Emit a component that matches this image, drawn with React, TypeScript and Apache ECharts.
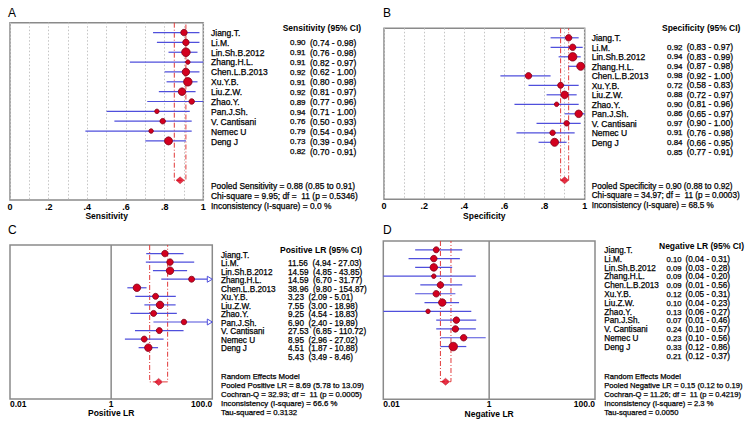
import React, { useEffect, useRef } from "react";
import * as echarts from "echarts";

const studies = ["Jiang.T.", "Li.M.", "Lin.Sh.B.2012", "Zhang.H.L.", "Chen.L.B.2013", "Xu.Y.B.", "Liu.Z.W.", "Zhao.Y.", "Pan.J.Sh.", "V. Cantisani", "Nemec U", "Deng J"];

const sensEst = [0.90, 0.91, 0.91, 0.92, 0.91, 0.92, 0.89, 0.94, 0.76, 0.79, 0.73, 0.82];
const sensLo = [0.74, 0.76, 0.82, 0.62, 0.80, 0.81, 0.77, 0.71, 0.50, 0.54, 0.39, 0.70];
const sensHi = [0.98, 0.98, 0.97, 1.00, 0.98, 0.97, 0.96, 1.00, 0.93, 0.94, 0.94, 0.91];
const sensWeight = [7, 7, 11, 3, 9, 11, 9, 5, 3, 5, 3, 10];
const sensPooled = [0.88, 0.85, 0.91];

const specEst = [0.92, 0.94, 0.94, 0.98, 0.72, 0.88, 0.90, 0.86, 0.97, 0.91, 0.84, 0.85];
const specLo = [0.83, 0.83, 0.87, 0.92, 0.58, 0.72, 0.81, 0.65, 0.90, 0.76, 0.66, 0.77];
const specHi = [0.97, 0.99, 0.98, 1.00, 0.83, 0.97, 0.96, 0.97, 1.00, 0.98, 0.95, 0.91];
const specWeight = [7, 7, 11, 10, 7, 6, 9, 3, 9, 5, 5, 10];
const specPooled = [0.90, 0.88, 0.92];

const plrEst = [11.56, 14.59, 14.59, 38.96, 3.23, 7.55, 9.25, 6.90, 27.53, 8.95, 4.51, 5.43];
const plrLo = [4.94, 4.85, 6.70, 9.80, 2.09, 3.00, 4.54, 2.40, 6.85, 2.96, 1.87, 3.49];
const plrHi = [27.03, 43.85, 31.77, 154.87, 5.01, 18.98, 18.83, 19.89, 110.72, 27.02, 10.88, 8.46];
const plrWeight = [7, 7, 9, 6, 9, 6, 9, 6, 5, 6, 6, 9];
const plrPooled = [8.69, 5.78, 13.09];

const nlrEst = [0.10, 0.09, 0.09, 0.09, 0.12, 0.10, 0.13, 0.07, 0.24, 0.23, 0.33, 0.21];
const nlrLo = [0.04, 0.03, 0.04, 0.01, 0.05, 0.04, 0.06, 0.01, 0.10, 0.10, 0.12, 0.12];
const nlrHi = [0.31, 0.28, 0.20, 0.56, 0.31, 0.23, 0.27, 0.46, 0.57, 0.56, 0.86, 0.37];
const nlrWeight = [6, 7, 9, 3, 7, 7, 9, 3, 7, 7, 7, 11];
const nlrPooled = [0.15, 0.12, 0.19];

const propTickLabels = ["0", ".2", ".4", ".6", ".8", "1"];
const lrTickValues = [0.01, 1, 100];
const lrTickLabels = ["0.01", "1", "100.0"];

const sensStats = ["Pooled Sensitivity = 0.88 (0.85 to 0.91)", "Chi-square = 9.95; df =  11 (p = 0.5346)", "Inconsistency (I-square) = 0.0 %"];
const specStats = ["Pooled Specificity = 0.90 (0.88 to 0.92)", "Chi-square = 34.97; df =  11 (p = 0.0003)", "Inconsistency (I-square) = 68.5 %"];
const plrStats = ["Random Effects Model", "Pooled Positive LR = 8.69 (5.78 to 13.09)", "Cochran-Q = 32.93; df =  11 (p = 0.0005)", "Inconsistency (I-square) = 66.6 %", "Tau-squared = 0.3132"];
const nlrStats = ["Random Effects Model", "Pooled Negative LR = 0.15 (0.12 to 0.19)", "Cochran-Q = 11.26; df =  11 (p = 0.4219)", "Inconsistency (I-square) = 2.3 %", "Tau-squared = 0.0050"];

const FONT = "'Liberation Sans Narrow', 'Arial Narrow', 'Liberation Sans', Arial, sans-serif";
const CI_COLOR = "#4f4fdc";
const DOT_COLOR = "#d3001f";
const DOT_BORDER = "#7d0018";
const POOL_COLOR = "#e23a3a";
const FRAME = "#8a8a8a";

type Panel = {
  letter: string;
  grid: { left: number; top: number; width: number; height: number };
  log: boolean;
  axisName: string;
  header: string;
  est: number[]; lo: number[]; hi: number[]; w: number[]; pooled: number[];
  stats: string[];
  letterPos: [number, number];
  nameX: number; nameY0: number; nameDy: number;
  valX: number; valY0: number; valDy: number; ciX: number | null;
  headerPos: [number, number];
  statX: number; statY: number[]; statSize: number; textSize: number;
  labelMargin: number; nameGap: number;
};

const panels: Panel[] = [
  {
    letter: "A", grid: { left: 10, top: 22.7, width: 193.3, height: 177.3 }, log: false,
    axisName: "Sensitivity", header: "Sensitivity (95% CI)",
    est: sensEst, lo: sensLo, hi: sensHi, w: sensWeight, pooled: sensPooled, stats: sensStats,
    letterPos: [8, 13], nameX: 211, nameY0: 32.7, nameDy: 9.9, valX: 290, valY0: 42.7, valDy: 9.9, ciX: 310,
    headerPos: [282.7, 28.3], statX: 211, statY: [186, 195.7, 205.7], statSize: 8.4, textSize: 8.5, labelMargin: 2, nameGap: 11.5,
  },
  {
    letter: "B", grid: { left: 384, top: 28.3, width: 200.7, height: 171 }, log: false,
    axisName: "Specificity", header: "Specificity (95% CI)",
    est: specEst, lo: specLo, hi: specHi, w: specWeight, pooled: specPooled, stats: specStats,
    letterPos: [383, 13], nameX: 591.7, nameY0: 38, nameDy: 9.5, valX: 667, valY0: 47, valDy: 9.55, ciX: 686.7,
    headerPos: [662, 28.3], statX: 591.7, statY: [186, 195.7, 205.7], statSize: 8.2, textSize: 8.5, labelMargin: 2, nameGap: 11.5,
  },
  {
    letter: "C", grid: { left: 10, top: 245, width: 202.3, height: 154 }, log: true,
    axisName: "Positive LR", header: "Positive LR (95% CI)",
    est: plrEst, lo: plrLo, hi: plrHi, w: plrWeight, pooled: plrPooled, stats: plrStats,
    letterPos: [8, 230], nameX: 221, nameY0: 255, nameDy: 8.5, valX: 288, valY0: 263.5, valDy: 8.5, ciX: null,
    headerPos: [280, 249.5], statX: 221, statY: [376, 385.7, 394.7, 403.7, 412.3], statSize: 7.8, textSize: 8.2, labelMargin: 0, nameGap: 9,
  },
  {
    letter: "D", grid: { left: 383.3, top: 241, width: 211.7, height: 158.3 }, log: true,
    axisName: "Negative LR", header: "Negative LR (95% CI)",
    est: nlrEst, lo: nlrLo, hi: nlrHi, w: nlrWeight, pooled: nlrPooled, stats: nlrStats,
    letterPos: [383, 230], nameX: 604.3, nameY0: 250.5, nameDy: 8.8, valX: 666.5, valY0: 259.3, valDy: 8.8, ciX: 685.5,
    headerPos: [659, 246], statX: 604.3, statY: [376, 385.7, 394.7, 403.7, 412.3], statSize: 7.6, textSize: 8.2, labelMargin: 0, nameGap: 9,
  },
];

const POOL_ROW = 15;

function buildOption() {
  const grid: any[] = [];
  const xAxis: any[] = [];
  const yAxis: any[] = [];
  const series: any[] = [];
  const graphic: any[] = [];

  panels.forEach((p, k) => {
    grid.push({ ...p.grid, show: true, borderColor: FRAME, borderWidth: 1.5, backgroundColor: "transparent" });
    const axisMax = p.log ? 100 : 1;
    if (p.log) {
      xAxis.push({
        gridIndex: k, type: "log", logBase: 10, min: 0.01, max: 100,
        axisLine: { show: false }, axisTick: { show: false }, splitLine: { show: false },
        axisLabel: {
          margin: p.labelMargin, fontSize: 8.5, fontWeight: "bold", color: "#000", fontFamily: FONT,
          alignMinLabel: "left", alignMaxLabel: "right", showMinLabel: true, showMaxLabel: true,
          formatter: (v: number) => {
            const i = lrTickValues.findIndex((t) => Math.abs(Math.log10(t) - Math.log10(v)) < 1e-6);
            return i >= 0 ? lrTickLabels[i] : "";
          },
        },
        name: p.axisName, nameLocation: "middle", nameGap: p.nameGap,
        nameTextStyle: { fontSize: 8.5, fontWeight: "bold", color: "#000", fontFamily: FONT },
      });
    } else {
      xAxis.push({
        gridIndex: k, type: "value", min: 0, max: 1, interval: 0.1,
        axisLine: { show: false }, axisTick: { show: false },
        splitLine: { show: true, lineStyle: { type: [1.5, 2], color: "#c4c4c4", width: 1 } },
        axisLabel: {
          margin: p.labelMargin, fontSize: 9, fontWeight: "bold", color: "#000", fontFamily: FONT,
          showMinLabel: true, showMaxLabel: true, hideOverlap: false,
          formatter: (v: number) => {
            const i = Math.round(v * 10);
            return i % 2 === 0 ? propTickLabels[i / 2] : "";
          },
        },
        name: p.axisName, nameLocation: "middle", nameGap: p.nameGap,
        nameTextStyle: { fontSize: 8.5, fontWeight: "bold", color: "#000", fontFamily: FONT },
      });
    }
    yAxis.push({ gridIndex: k, type: "value", min: -1, max: 17, inverse: true, show: false });

    if (p.log) {
      series.push({
        type: "line", xAxisIndex: k, yAxisIndex: k, data: [[1, -1], [1, 17]], symbol: "none", silent: true,
        lineStyle: { color: FRAME, width: 1.5 }, z: 2,
      });
    }
    // pooled bracket
    series.push({
      type: "line", xAxisIndex: k, yAxisIndex: k, symbol: "none", silent: true,
      data: [[p.pooled[1], -1], [p.pooled[1], POOL_ROW], [p.pooled[2], POOL_ROW], [p.pooled[2], -1]],
      lineStyle: { color: POOL_COLOR, width: 1, type: [5, 2, 1, 2] }, z: 3,
    });
    // CI lines
    series.push({
      type: "custom", xAxisIndex: k, yAxisIndex: k, silent: true, z: 4,
      data: p.est.map((_, i) => [p.lo[i], p.hi[i], i]),
      renderItem: (params: any, api: any) => {
        const lo = api.value(0);
        const hi = api.value(1);
        const row = api.value(2);
        const clipped = hi > axisMax;
        const a = api.coord([lo, row]);
        const b = api.coord([clipped ? axisMax : hi, row]);
        const children: any[] = [];
        const endX = clipped ? b[0] - 5 : b[0];
        children.push({ type: "line", shape: { x1: a[0], y1: a[1], x2: endX, y2: b[1] }, style: { stroke: CI_COLOR, lineWidth: 1.2 } });
        if (clipped) {
          children.push({
            type: "polygon",
            shape: { points: [[b[0] - 5, b[1] - 3], [b[0], b[1]], [b[0] - 5, b[1] + 3]] },
            style: { fill: "#fff", stroke: CI_COLOR, lineWidth: 1 },
          });
        }
        return { type: "group", children };
      },
    });
    // study points
    series.push({
      type: "scatter", xAxisIndex: k, yAxisIndex: k, silent: true, z: 5,
      data: p.est.map((v, i) => ({ value: [v, i], symbolSize: 3 + p.w[i] / 2 })),
      itemStyle: { color: DOT_COLOR, borderColor: DOT_BORDER, borderWidth: 0.8, opacity: 1 },
    });
    // pooled diamond
    series.push({
      type: "scatter", xAxisIndex: k, yAxisIndex: k, silent: true, z: 6, symbol: "diamond", symbolSize: [8, 7],
      data: [[p.pooled[0], POOL_ROW]],
      itemStyle: { color: "#e0001a", borderColor: "#b00010", borderWidth: 0.5 },
    });

    // texts
    const txt = (text: string, x: number, y: number, extra: any = {}) => ({
      type: "text", x, y, silent: true,
      style: {
        text, fill: "#000",
        stroke: extra.bold || extra.plain ? undefined : "#000", lineWidth: extra.bold || extra.plain ? 0 : 0.25,
        font: `${extra.bold ? "bold " : ""}${extra.size || p.textSize}px ${extra.family || FONT}`,
        textVerticalAlign: "middle", textAlign: "left",
      },
    });
    graphic.push(txt(p.letter, p.letterPos[0], p.letterPos[1], { size: 12, plain: true, family: "'Liberation Sans', Arial, sans-serif" }));
    graphic.push(txt(p.header, p.headerPos[0], p.headerPos[1], { bold: true, size: 8.5 }));
    studies.forEach((s, i) => graphic.push(txt(s, p.nameX, p.nameY0 + i * p.nameDy)));
    p.est.forEach((v, i) => {
      const y = p.valY0 + i * p.valDy;
      const ci = `(${p.lo[i].toFixed(2)} - ${p.hi[i].toFixed(2)})`;
      if (p.ciX !== null) {
        graphic.push(txt(v.toFixed(2), p.valX, y, { size: p.textSize - 0.5 }));
        graphic.push(txt(ci, p.ciX, y));
      } else {
        graphic.push(txt(`${v.toFixed(2)}  ${ci}`, p.valX, y));
      }
    });
    p.stats.forEach((s, i) => graphic.push(txt(s, p.statX, p.statY[i], { size: p.statSize })));
  });

  return { animation: false, grid, xAxis, yAxis, series, graphic };
}

export default function App() {
  const ref = useRef<HTMLDivElement>(null);
  useEffect(() => {
    if (!ref.current) return;
    const chart = echarts.init(ref.current, null, { renderer: "svg" });
    chart.setOption(buildOption() as any);
    return () => chart.dispose();
  }, []);
  return <div ref={ref} style={{ width: 750, height: 421, position: "absolute", left: 0, top: 0, background: "#fff" }} />;
}
